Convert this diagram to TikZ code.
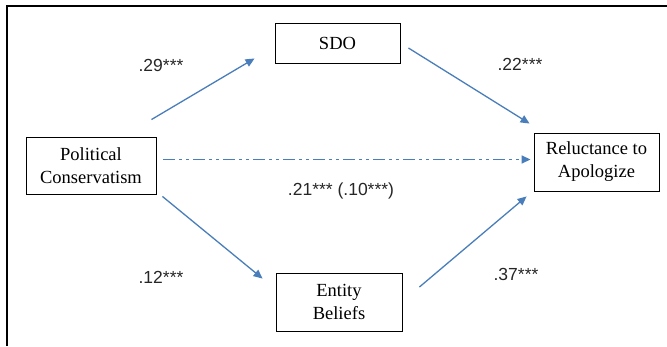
\documentclass[tikz,border=0pt]{standalone}
\usepackage{fontspec}
\setmainfont{Liberation Serif}
\setsansfont{Liberation Sans}
\usepackage{xcolor}
\usetikzlibrary{arrows.meta}
\usetikzlibrary{positioning}
\definecolor{linkblue}{HTML}{4A7EBB}
\tikzset{
    block/.style={
           rectangle,
           draw=black, line width=0.9pt,
           inner sep=0pt,
           align=center,
           font=\fontsize{18.5}{23}\selectfont,
           },
    coef/.style={
           inner sep=0pt,
           text=black!85,
           font=\sffamily\fontsize{17.5}{21}\selectfont,
           },
    link/.style={
           -{Triangle[length=9pt,width=8pt]},
           color=linkblue, line width=1.3pt,
           },
}

\begin{document}
\begin{tikzpicture}[x=1pt,y=-1pt]
	\useasboundingbox (0,0) rectangle (667,346);
	%frame
	\draw[line width=2pt] (7,346) -- (7,5.5) -- (667,5.5);

	\node[block, minimum width=130pt, minimum height=57pt] (pc) at (91,165.5) {Political\\ Conservatism};
	\node[block, minimum width=125pt, minimum height=40pt] (sdo) at (337.5,43) {SDO};
	\node[block, minimum width=126pt, minimum height=58pt] (eb) at (339,302) {Entity\\ Beliefs};
	\node[block, minimum width=125pt, minimum height=58pt] (rel) at (596.5,162) {Reluctance to\\ Apologize};

	%coefficients
	\node[coef] (c29) at (161,65) {.29***};
	\node[coef] (c22) at (520,64) {.22***};
	\node[coef] (cdir) at (341,191) {.21*** (.10***)};
	\node[coef] (c12) at (161,277) {.12***};
	\node[coef] (c37) at (516,274) {.37***};

	%EDGES
	\draw[link]	([xshift=-5pt,yshift=17pt]pc.north east) -- ([xshift=-20pt,yshift=5pt]sdo.south west);
	\draw[link]	([xshift=8pt,yshift=-5pt]sdo.east) -- ([xshift=-4pt,yshift=9pt]rel.north west);
	\draw[link]	([xshift=6pt,yshift=-2pt]pc.south east) -- ([xshift=-13pt,yshift=-6pt]eb.north west);
	\draw[link]	([xshift=17pt,yshift=15pt]eb.east) -- ([xshift=-7pt,yshift=-5pt]rel.south west);

	\coordinate (d0) at ([xshift=7pt,yshift=6pt]pc.east);
	\draw[link, line width=1.5pt, shorten >=3pt, dash pattern=on 12pt off 4pt on 3pt off 4pt on 3pt off 4pt]
				(d0) -- (d0 -| rel.west);
\end{tikzpicture}
\end{document}
